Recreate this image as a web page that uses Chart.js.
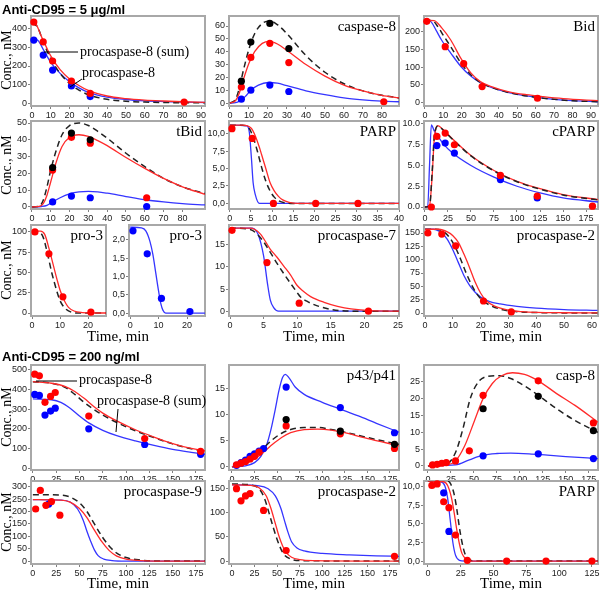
<!DOCTYPE html>
<html><head><meta charset="utf-8">
<script src="https://cdn.jsdelivr.net/npm/chart.js@4.4.1/dist/chart.umd.min.js"></script>
<style>
html,body{margin:0;padding:0;background:#fff}
body{width:600px;height:590px;position:relative;overflow:hidden}
canvas{position:absolute}
.lab{position:absolute;white-space:nowrap;font-family:"Liberation Serif","Times New Roman",serif;color:#000;line-height:1}
.ttl{position:absolute;white-space:nowrap;font-family:"Liberation Sans",Arial,sans-serif;font-weight:bold;font-size:13px;line-height:1;color:#000}
svg{position:absolute;left:0;top:0}
</style></head><body>
<script>
// ---------- tick labels ----------
const T_0_90=[0,10,20,30,40,50,60,70,80,90];
const T_0_80=[0,10,20,30,40,50,60,70,80];
const T_0_40=[0,5,10,15,20,25,30,35,40];
const T_0_175=[0,25,50,75,100,125,150,175];
const T_0_125=[0,25,50,75,100,125];
const T_0_20=[0,10,20];
const T_0_25=[0,5,10,15,20,25];
const T_0_60=[0,10,20,30,40,50,60];
const Y_0_400=[0,100,200,300,400];
const Y_0_60=[0,10,20,30,40,50,60];
const Y_0_200=[0,50,100,150,200];
const Y_0_50=[0,10,20,30,40,50];
const Y_0_10=[0,2.5,5,7.5,10];
const Y_0_100=[0,25,50,75,100];
const Y_0_2=[0,0.5,1,1.5,2];
const Y_0_15=[0,5,10,15];
const Y_0_150=[0,25,50,75,100,125,150];
const Y_0_500=[0,100,200,300,400,500];
const Y_0_25=[0,5,10,15,20,25];
const Y_0_300=[0,50,100,150,200,250,300];
const Y_0_150b=[0,50,100,150];

// ---------- data: Anti-CD95 = 5 ug/ml ----------
// procaspase-8
const A_red_pts=[[1,437],[6,330],[11,227],[21,119],[31,52],[81,5]];
const A_blue_pts=[[1,340],[6,259],[11,178],[21,92],[31,35]];
const A_red=[[0,442],[2,430],[5,360],[8,295],[10,255],[15,180],[20,130],[25,95],[30,68],[40,38],[50,24],[60,16],[70,11],[80,7],[92,4]];
const A_dash=[[0,430],[3,410],[6,330],[10,240],[15,160],[20,105],[25,70],[30,45],[40,20],[50,10],[60,5],[75,2],[92,1]];
const A_blue=[[0,345],[3,340],[6,290],[10,220],[15,160],[20,115],[25,82],[30,58],[40,32],[50,19],[60,12],[70,8],[80,5],[92,3]];
// caspase-8
const B_blk_pts=[[6,17],[11,47.5],[21,62],[31,42.5]];
const B_red_pts=[[6,12.5],[11,35.5],[21,46.5],[31,31.5],[81,1]];
const B_blue_pts=[[6,3],[11,10],[21,14],[31,9]];
const B_dash=[[0,0],[3,3],[5,12],[7,25],[10,42],[13,54],[17,62],[21,64],[25,61],[30,54],[40,37],[50,24],[60,15],[70,9.5],[80,6],[89,4]];
const B_red=[[0,0],[3,2],[5,8],[7,18],[10,31],[13,40],[17,46.5],[21,48],[25,46],[30,41],[40,30],[50,21],[60,14],[70,9.5],[80,6],[89,4]];
const B_blue=[[0,0],[3,0.3],[5,1.5],[8,5],[11,10],[15,14],[20,16],[25,15.5],[30,13.5],[40,9.5],[50,6.5],[60,4],[70,2.5],[80,1.5],[89,1]];
// Bid
const C_red_pts=[[1,230],[11,158],[21,110],[31,45],[61,12]];
const C_red=[[0,233],[5,232],[9,212],[14,177],[19.5,125],[25,83],[30,59],[36,45],[45,31],[55,22],[64,16.5],[75,11],[94,5]];
const C_dash=[[0,233],[4,232],[7,215],[10,190],[14,158],[19.5,112],[25,78],[30,57],[40,36],[50,23],[60,15],[70,9],[80,5],[94,2]];
const C_blue=[[0,233],[3,230],[6,205],[9,177],[14,140],[19.5,102],[25,74],[30,56],[40,36],[50,23],[60,15],[70,9],[80,5],[94,2]];
// tBid
const D_blk_pts=[[11,23.5],[21,44],[31,40]];
const D_red_pts=[[11,22],[21,41.5],[31,38],[61,5.5]];
const D_blue_pts=[[11,3],[21,6.5],[31,5.5],[61,0.3]];
const D_dash=[[0,0],[4,0.5],[6,4],[8,12],[10,22],[13,34],[16,43],[20,48.5],[25,50],[30,48.5],[35,45],[40,41],[50,32],[60,24],[70,17],[80,12],[92,8]];
const D_red=[[0,0],[4,0.3],[6,2],[8,7],[10,15],[13,27],[16,36],[20,41.5],[25,43],[30,42],[35,39.5],[40,36.5],[50,29.5],[60,23],[70,17],[80,12],[92,7.5]];
const D_blue=[[0,0],[5,0.3],[8,1],[11,3],[15,5.5],[20,7.8],[25,9],[30,9.3],[35,9],[40,8.2],[50,6.2],[60,4.3],[70,3],[80,2],[92,1.2]];
// PARP
const E_red_pts=[[0.5,10.7],[5.3,9.3],[10.3,0],[20.3,0],[30.3,0]];
const E_blue=[[0,11.2],[4,11.1],[4.6,10.2],[5.1,6.5],[5.5,3],[6,1.3],[7,0],[40,0]];
const E_red=[[0,11.2],[3,11.2],[5,10.8],[6,9.7],[7,8],[7.5,7],[8.5,5],[9.5,3],[10.5,1.8],[11.5,1],[12.5,0.5],[14,0.15],[16,0],[40,0]];
const E_dash=[[0,11.2],[3,11.2],[4.5,10.8],[5.5,9.5],[6.5,7.5],[7.5,5.2],[8.5,3.2],[9.5,1.8],[10.5,0.9],[11.5,0.4],[13,0.1],[15,0],[40,0]];
// cPARP
const F_red_pts=[[7,0],[13,8.5],[22,8.9],[32,7.5],[82,3.8],[122,1.3],[182,0.1]];
const F_blue_pts=[[13,7.4],[22,7.7],[32,6.5],[82,3.3],[122,1.1]];
const F_blue=[[0,0],[3,0],[5,5],[7,9.9],[10,9.2],[15,8.4],[20,7.6],[30,6.5],[50,5],[75,3.6],[100,2.5],[125,1.7],[150,1.1],[188,0.6]];
const F_dash=[[0,0],[5,0.1],[8,4.5],[10,8.3],[12,9.5],[14,9.75],[20,9.25],[30,8.15],[50,6.15],[75,4.35],[100,3.05],[125,2.15],[150,1.45],[188,0.85]];
const F_red=[[0,0],[5,0.2],[8,4],[10,8],[12,9.5],[14,9.8],[20,9.3],[30,8.2],[50,6.2],[75,4.4],[100,3.1],[125,2.2],[150,1.5],[188,0.9]];
// pro-3 (left)
const G_red_pts=[[1,100],[6,73],[11,20],[21,1]];
const G_red=[[0,101],[3,101],[4.5,97],[6,80],[7.5,60],[9,40],[10,28],[11,19],[12,12],[13,7],[15,2.5],[18,0.5],[21,0],[27,0]];
const G_dash=[[0,101],[2.5,100],[4,93],[5.5,73],[7,50],[8,37],[9,25],[10,15],[11,9],[12,5],[14,1],[16,0],[27,0]];
// pro-3 (right)
const H_blue_pts=[[1,2.25],[6,1.62],[11,0.4],[21,0.04]];
const H_blue=[[0,2.35],[4,2.33],[5.5,2.25],[7,1.95],[8,1.6],[9,1.1],[10,0.6],[10.8,0.25],[11.5,0.08],[12.5,0],[27,0]];
// procaspase-7
const I_red_pts=[[0.3,18.3],[5.5,11],[10.3,1.8],[20.6,0]];
const I_blue=[[0,18.8],[3.3,18.8],[4.2,17.3],[5,12.5],[5.6,6],[6,2.5],[6.5,0.8],[7.2,0],[25.2,0]];
const I_red=[[0,18.8],[3,18.8],[4.5,17.5],[6,14],[7,12.2],[8,10.2],[9,8.2],[10,5.8],[11,4.4],[12,3.3],[14,2],[16,1.1],[18,0.5],[21,0.1],[25.2,0]];
const I_dash=[[0,18.8],[3,18.5],[4,17.5],[5,15.7],[6,13.3],[7,10.8],[8,8.5],[9,6.3],[10,4.2],[10.5,3.2],[11.5,2.2],[13,1.2],[15,0.4],[18,0],[25.2,0]];
// procaspase-2
const J_red_pts=[[1,150],[6,148],[11,126],[21,22.5],[31,2]];
const J_red=[[0,157],[5,157],[8,152],[10,145],[12,132],[14,110],[16,85],[18,58],[20,37],[22,23],[25,13],[30,5.5],[35,2.5],[40,1.2],[50,0.5],[62,0.3]];
const J_dash=[[0,157],[4,157],[7,151],[9,140],[11,122],[13,98],[15,72],[17,50],[19,33],[21,22],[24,13],[28,6],[33,2.5],[40,0.8],[62,0]];
const J_blue=[[0,157],[3,157],[6,150],[8,138],[10,118],[12,94],[14,70],[16,52],[18,39],[20,30],[23,22],[27,17],[33,12.5],[40,9],[50,6.5],[62,5]];

// ---------- data: Anti-CD95 = 200 ng/ml ----------
const K_red_pts=[[2,478],[7,470],[13,335],[19,365],[24,385],[60,265],[120,150],[180,85]];
const K_blue_pts=[[2,375],[7,370],[13,270],[19,290],[24,305],[60,200],[120,120],[180,70]];
const K_red=[[0,440],[20,432],[35,415],[45,390],[55,355],[65,315],[75,280],[90,240],[110,195],[130,158],[150,125],[170,100],[185,88]];
const K_dash=[[0,440],[20,432],[35,410],[45,375],[55,335],[65,300],[75,270],[90,232],[110,190],[130,155],[150,123],[170,98],[185,86]];
const K_blue=[[0,352],[20,348],[30,335],[40,305],[50,265],[60,230],[75,192],[90,165],[110,138],[130,115],[150,95],[170,80],[185,70]];
const L_blue_pts=[[5,0.3],[10,0.8],[15,1.3],[20,2],[25,2.5],[30,3],[35,3.5],[60,15.2],[120,11.3],[180,6.5]];
const L_red_pts=[[5,0.4],[10,0.7],[15,1],[20,1.5],[25,2],[30,2.8],[60,7.8],[120,6.3],[180,3.5]];
const L_blk_pts=[[60,9],[120,6.8],[180,4.3]];
const L_blue=[[0,0],[15,0.2],[25,0.8],[32,2],[38,4],[43,7],[48,11],[52,14.5],[56,17],[59,17.6],[63,17],[70,15.2],[80,13.8],[100,12.3],[120,11],[140,9.7],[160,8.3],[185,6.6]];
const L_red=[[0,0],[15,0.6],[25,1.5],[35,2.8],[45,4.3],[55,5.6],[65,6.5],[80,7.1],[95,7.2],[110,7],[125,6.5],[145,5.6],[165,4.8],[185,4]];
const L_dash=[[0,0],[15,0.8],[25,2],[35,3.6],[45,5.2],[55,6.4],[65,7.1],[80,7.5],[95,7.5],[110,7.1],[125,6.6],[145,5.8],[165,5],[185,4.3]];
const M_red_pts=[[5,0.3],[10,0.5],[15,0.8],[20,1],[30,1.5],[45,4.5],[60,21],[120,25.3],[180,12.8]];
const M_blk_pts=[[60,17],[120,20.7],[180,10.5]];
const M_blue_pts=[[60,3],[120,3.6],[180,2.2]];
const M_red=[[0,0],[20,0.3],[30,1.5],[40,6],[50,13],[60,20],[70,24.5],[80,26.8],[92,27.7],[105,27.2],[120,25.3],[140,21.5],[160,18],[185,13]];
const M_dash=[[0,0],[20,0.5],[30,4],[38,11],[46,20],[55,25],[65,26.6],[78,26.8],[90,26],[105,23.8],[120,21],[140,17],[160,13.5],[185,10]];
const M_blue=[[0,0],[30,0.3],[45,1.8],[60,3.2],[75,3.7],[90,3.8],[110,3.6],[130,3.2],[150,2.8],[185,2.2]];
const N_red_pts=[[3,210],[8,285],[14,225],[20,240],[29,185]];
const N_blue_pts=[[17,230]];
const N_blue=[[0,248],[30,246],[40,238],[48,210],[54,165],[58,120],[62,80],[66,45],[70,22],[76,8],[85,2],[100,0],[185,0]];
const N_red=[[0,248],[30,246],[40,238],[50,212],[58,175],[66,125],[74,78],[82,42],[90,20],[100,8],[115,2],[130,0],[185,0]];
const N_dash=[[0,268],[30,266],[40,258],[50,235],[58,200],[66,150],[74,100],[82,60],[90,32],[100,14],[115,4],[130,0.5],[185,0]];
const O_red_pts=[[5,150],[10,125],[15,135],[20,140],[35,105],[60,22],[180,10]];
const O_blue=[[0,158],[30,156],[40,150],[48,135],[54,110],[58,85],[62,60],[66,40],[72,27],[80,21],[100,16],[130,13],[160,11],[185,10]];
const O_red=[[0,158],[20,157],[30,152],[38,135],[43,110],[48,78],[52,52],[56,32],[60,18],[66,8],[75,3],[90,1],[185,0]];
const O_dash=[[0,160],[20,158],[30,150],[36,130],[41,100],[46,68],[50,45],[54,26],[58,13],[64,5],[75,1],[185,0]];
const P_red_pts=[[3,10.2],[7,10.4],[12,8],[16,7.2],[21,3.5],[30,0.1],[60,0],[90,0],[125,0]];
const P_blue_pts=[[12,9.2],[16,4]];
const P_blue=[[0,10.8],[10,10.7],[13,10.1],[15,8.5],[17,5.5],[19,2.5],[21,0.8],[24,0.1],[28,0],[130,0]];
const P_red=[[0,10.8],[12,10.7],[15,10.2],[18,8.5],[20,6.5],[22,4.2],[24,2.3],[26,1],[29,0.3],[33,0],[130,0]];
const P_dash=[[0,10.8],[14,10.8],[17,10.5],[20,9],[22,7],[24,4.5],[26,2.5],[28,1.1],[31,0.3],[35,0],[130,0]];

// ---------- styling ----------
const RED='#ff0000', BLUE='#0000ff', BLK='#000000';
const RL='#ff2a2a', BL='#3535ff', DL='#222222';
const TF='"Liberation Sans", Arial, sans-serif';
const YW=30, PT=8, PR=14, XH=15;
const COL1=[31,205], COL2=[229,399], COL3=[424,598], C1A=[31,106], C1B=[129,205];
const ROW1=[16,106], ROW2=[121,209], ROW3=[225,316], ROW4=[365,470], ROW5=[481,564];

const pts=(d,c)=>({k:'pts',d,c});
const ln=(d,c)=>({k:'line',d,c});
const da=d=>({k:'dash',d,c:DL});

const panels=[
 {cx:COL1,cy:ROW1,xr:[-0.5,92.1],yr:[-16,470],xt:T_0_90,yt:Y_0_400,f:'i',
  ser:[ln(A_red,RL),da(A_dash),ln(A_blue,BL),pts(A_red_pts,RED),pts(A_blue_pts,BLUE)]},
 {cx:COL2,cy:ROW1,xr:[-0.5,89],yr:[-2.3,67.8],xt:T_0_80,yt:Y_0_60,f:'i',lab:'caspase-8',
  ser:[ln(B_red,RL),da(B_dash),ln(B_blue,BL),pts(B_blk_pts,BLK),pts(B_red_pts,RED),pts(B_blue_pts,BLUE)]},
 {cx:COL3,cy:ROW1,xr:[-0.5,93.8],yr:[-10,245],xt:T_0_90,yt:Y_0_200,f:'i',lab:'Bid',
  ser:[ln(C_red,RL),da(C_dash),ln(C_blue,BL),pts(C_red_pts,RED)]},
 {cx:COL1,cy:ROW2,xr:[-0.5,92],yr:[-1.2,51.2],xt:T_0_80,yt:Y_0_50,f:'i',lab:'tBid',
  ser:[ln(D_red,RL),da(D_dash),ln(D_blue,BL),pts(D_blk_pts,BLK),pts(D_red_pts,RED),pts(D_blue_pts,BLUE)]},
 {cx:COL2,cy:ROW2,xr:[-0.2,40],yr:[-0.8,11.8],xt:T_0_40,yt:Y_0_10,f:'c1',lab:'PARP',
  ser:[ln(E_red,RL),da(E_dash),ln(E_blue,BL),pts(E_red_pts,RED)]},
 {cx:COL3,cy:ROW2,xr:[-1,188],yr:[-0.24,10.36],xt:T_0_175,yt:Y_0_10,f:'d1',lab:'cPARP',
  ser:[da(F_dash),ln(F_red,RL),ln(F_blue,BL),pts(F_red_pts,RED),pts(F_blue_pts,BLUE)]},
 {cx:C1A,cy:ROW3,xr:[-0.4,26.4],yr:[-3.7,108.6],xt:T_0_20,yt:Y_0_100,f:'i',lab:'pro-3',
  ser:[ln(G_red,RL),da(G_dash),pts(G_red_pts,RED)]},
 {cx:C1B,cy:ROW3,xr:[-0.4,26.3],yr:[-0.08,2.41],xt:T_0_20,yt:Y_0_2,f:'c1',lab:'pro-3',
  ser:[ln(H_blue,BL),pts(H_blue_pts,BLUE)]},
 {cx:COL2,cy:ROW3,xr:[-0.15,25.15],yr:[-1.1,19.5],xt:T_0_25,yt:Y_0_15,f:'i',lab:'procaspase-7',
  ser:[ln(I_red,RL),da(I_dash),ln(I_blue,BL),pts(I_red_pts,RED)]},
 {cx:COL3,cy:ROW3,xr:[-0.4,62.2],yr:[-5.6,165],xt:T_0_60,yt:Y_0_150,f:'i',lab:'procaspase-2',
  ser:[ln(J_red,RL),da(J_dash),ln(J_blue,BL),pts(J_red_pts,RED)]},
 {cx:COL1,cy:ROW4,xr:[-2,184.7],yr:[-10,525],xt:T_0_175,yt:Y_0_500,f:'i',
  ser:[ln(K_red,RL),da(K_dash),ln(K_blue,BL),pts(K_red_pts,RED),pts(K_blue_pts,BLUE)]},
 {cx:COL2,cy:ROW4,xr:[-3.3,185],yr:[-0.6,19.4],xt:T_0_175,yt:Y_0_15,f:'i',lab:'p43/p41',
  ser:[ln(L_red,RL),da(L_dash),ln(L_blue,BL),pts(L_blk_pts,BLK),pts(L_red_pts,RED),pts(L_blue_pts,BLUE)]},
 {cx:COL3,cy:ROW4,xr:[-4.3,185],yr:[-1.2,30],xt:T_0_175,yt:Y_0_25,f:'i',lab:'casp-8',
  ser:[ln(M_red,RL),da(M_dash),ln(M_blue,BL),pts(M_blk_pts,BLK),pts(M_red_pts,RED),pts(M_blue_pts,BLUE)]},
 {cx:COL1,cy:ROW5,xr:[-2,184.7],yr:[-12,323],xt:T_0_175,yt:Y_0_300,f:'i',lab:'procaspase-9',
  ser:[ln(N_red,RL),da(N_dash),ln(N_blue,BL),pts(N_red_pts,RED),pts(N_blue_pts,BLUE)]},
 {cx:COL2,cy:ROW5,xr:[-3.3,185],yr:[-6,166],xt:T_0_175,yt:Y_0_150b,f:'i',lab:'procaspase-2',
  ser:[ln(O_red,RL),da(O_dash),ln(O_blue,BL),pts(O_red_pts,RED)]},
 {cx:COL3,cy:ROW5,xr:[-3,129.6],yr:[-0.4,10.8],xt:T_0_125,yt:Y_0_10,f:'c1',lab:'PARP',
  ser:[ln(P_red,RL),da(P_dash),ln(P_blue,BL),pts(P_red_pts,RED),pts(P_blue_pts,BLUE)]}
];

function fmt(f,v){ if(f==='c1') return v.toFixed(1).replace('.',','); if(f==='d1') return v.toFixed(1); return String(v); }
const xy=a=>a.map(p=>({x:p[0],y:p[1]}));
const frame={id:'frame',beforeDatasetsDraw(c){const a=c.chartArea,x=c.ctx;x.save();x.strokeStyle='#a8a8a8';x.lineWidth=2;x.strokeRect(a.left,a.top,a.right-a.left,a.bottom-a.top);x.restore();}};

function txt(s,x,y,o){
  const e=document.createElement('div'); e.className=o.cls||'lab'; e.textContent=s;
  if(o.size) e.style.fontSize=o.size+'px';
  e.style.top=y+'px';
  let tf='translateY(-50%)';
  if(o.align==='right'){ e.style.right=(600-x)+'px'; }
  else if(o.align==='center'){ e.style.left=x+'px'; tf='translate(-50%,-50%)'; }
  else e.style.left=x+'px';
  if(o.rot) tf='translate(-50%,-50%) rotate(-90deg)';
  e.style.transform=tf;
  document.body.appendChild(e);
}

function build(p){
  const [l,r]=p.cx,[t,b]=p.cy;
  const W=r-l+YW+PR, H=b-t+PT+XH;
  const cv=document.createElement('canvas');
  cv.width=W; cv.height=H;
  Object.assign(cv.style,{left:(l-YW)+'px',top:(t-PT)+'px',width:W+'px',height:H+'px'});
  document.body.appendChild(cv);
  const datasets=p.ser.map(s=>s.k==='pts'?{
      type:'scatter',data:xy(s.d),backgroundColor:s.c,borderColor:s.c,pointRadius:3.6,pointBorderWidth:0,pointHoverRadius:0,showLine:false,clip:12,order:0
    }:{
      type:'line',data:xy(s.d),borderColor:s.c,backgroundColor:s.c,borderWidth:s.k==='dash'?1.5:1.3,borderDash:s.k==='dash'?[6,4]:[],pointRadius:0,pointHoverRadius:0,cubicInterpolationMode:'monotone',fill:false,order:1
    });
  const grid={display:true,drawOnChartArea:false,drawTicks:true,tickLength:3,color:'#808080',lineWidth:1};
  new Chart(cv,{type:'scatter',data:{datasets},options:{
    responsive:false,animation:false,devicePixelRatio:1,events:[],
    layout:{padding:{top:PT,right:PR,left:0,bottom:0}},
    plugins:{legend:{display:false},tooltip:{enabled:false}},
    scales:{
      x:{type:'linear',min:p.xr[0],max:p.xr[1],
        afterBuildTicks:s=>{s.ticks=p.xt.map(v=>({value:v}));},
        afterFit:s=>{s.height=XH;},
        grid,border:{display:false},
        ticks:{autoSkip:false,maxRotation:0,minRotation:0,padding:1,color:'#222',font:{family:TF,size:9},callback:v=>String(v)}},
      y:{type:'linear',min:p.yr[0],max:p.yr[1],
        afterBuildTicks:s=>{s.ticks=p.yt.map(v=>({value:v}));},
        afterFit:s=>{s.width=YW;},
        grid,border:{display:false},
        ticks:{autoSkip:false,padding:1,color:'#222',font:{family:TF,size:9},callback:v=>fmt(p.f,v)}}
    }},plugins:[frame]});
  if(p.lab) txt(p.lab,r-3,t+10,{align:'right',size:15});
}
panels.forEach(build);

// titles and axis titles
txt('Anti-CD95 = 5 \u03bcg/ml',2,9,{cls:'ttl'});
txt('Anti-CD95 = 200 ng/ml',2,356,{cls:'ttl'});
[60,165,270,417,522].forEach(y=>txt('Conc., nM',7,y,{rot:true,size:14}));
[118,314,511].forEach(x=>{txt('Time, min',x,336,{align:'center',size:15});txt('Time, min',x,583,{align:'center',size:15});});
// annotations in procaspase-8 panels
txt('procaspase-8 (sum)',80,52,{size:14});
txt('procaspase-8',82,73,{size:14});
txt('procaspase-8',79,380,{size:14});
txt('procaspase-8 (sum)',97,401,{size:14});
const NS='http://www.w3.org/2000/svg';
const svg=document.createElementNS(NS,'svg'); svg.setAttribute('width','600'); svg.setAttribute('height','590');
[[44,52,78,52],[82,79,70,87],[36,381,77,381],[118,409,116,432]].forEach(s=>{
  const l=document.createElementNS(NS,'line');
  l.setAttribute('x1',s[0]);l.setAttribute('y1',s[1]);l.setAttribute('x2',s[2]);l.setAttribute('y2',s[3]);
  l.setAttribute('stroke','#000');l.setAttribute('stroke-width','1');
  svg.appendChild(l);
});
document.body.appendChild(svg);
</script></body></html>
